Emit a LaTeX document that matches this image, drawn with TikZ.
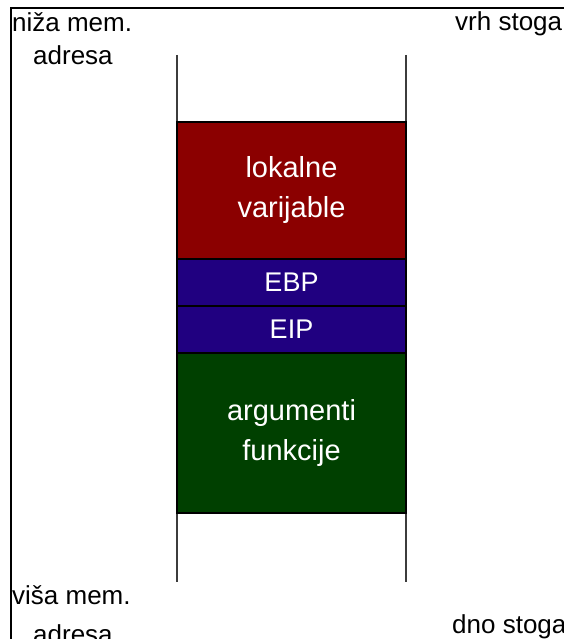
\documentclass[tikz,border=0pt]{standalone}
\usepackage{fontspec}
\setmainfont{Liberation Sans}
\definecolor{locred}{RGB}{139,0,0}
\definecolor{regblue}{RGB}{32,0,128}
\definecolor{arggreen}{RGB}{0,64,0}
\definecolor{railgray}{RGB}{60,60,60}
\begin{document}
\begin{tikzpicture}[x=1pt,y=-1pt,
  frame/.style={line width=2pt,black},
  rail/.style={line width=2.5pt,railgray},
  stackbox/.style={draw=black,line width=2pt,inner sep=0pt,outer sep=0pt,
    minimum width=229pt,text=white,align=center},
  bigtxt/.style={font=\fontsize{29}{40}\selectfont},
  smalltxt/.style={font=\fontsize{27}{32}\selectfont},
  lbl/.style={font=\fontsize{26}{30}\selectfont,anchor=base west,inner sep=0pt}]
\useasboundingbox (0,0) rectangle (564,639);
% frame
\coordinate (ftl) at (11,8);
\coordinate (ftr) at (566,8);
\coordinate (fbl) at (11,641);
\draw[frame] (ftr) -- (ftl) -- (fbl);
% rails
\coordinate (lt) at (177,55);
\coordinate (lb) at (177,582);
\coordinate (rt) at (406,55);
\coordinate (rb) at (406,582);
\draw[rail] (lt) -- (lb);
\draw[rail] (rt) -- (rb);
% boxes
\node[stackbox,fill=locred,minimum height=137pt,bigtxt] (loc) at (291.5,190.5) {lokalne\\varijable};
\node[stackbox,fill=regblue,minimum height=47pt,smalltxt] (ebp) at (291.5,282.5) {EBP};
\node[stackbox,fill=regblue,minimum height=47pt,smalltxt] (eip) at (291.5,329.5) {EIP};
\node[stackbox,fill=arggreen,minimum height=160pt,bigtxt] (arg) at (291.5,433) {argumenti\\funkcije};
% labels
\node[lbl] (niza) at (12,32) {niža mem.};
\node[lbl] (adr1) at (33,65) {adresa};
\node[lbl] (vrh) at (455,31) {vrh stoga};
\node[lbl] (visa) at (12,604) {viša mem.};
\node[lbl] (adr2) at (33,643) {adresa};
\node[lbl] (dno) at (452,633) {dno stoga};
\end{tikzpicture}
\end{document}
